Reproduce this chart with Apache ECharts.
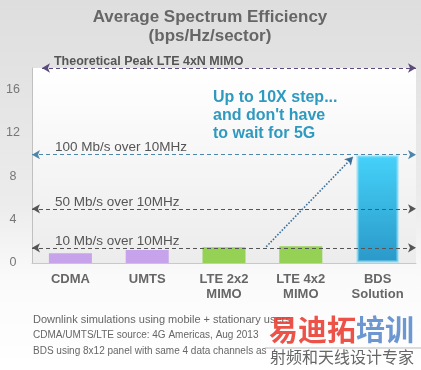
<!DOCTYPE html>
<html><head><meta charset="utf-8">
<script src="https://cdn.jsdelivr.net/npm/echarts@6/dist/echarts.min.js"></script>
<style>html,body{margin:0;padding:0;background:#fff}#c{width:421px;height:370px}</style>
</head><body><div id="c"></div>
<script>
const categories = ['CDMA', 'UMTS', 'LTE 2x2\nMIMO', 'LTE 4x2\nMIMO', 'BDS\nSolution'];
const efficiency = [0.9, 1.2, 1.45, 1.55, 10.0];
const barColors = ['#c6a3ea', '#c6a3ea', '#94d155', '#94d155', 'bds'];
const yTicks = [0, 4, 8, 12, 16];
const refLevels = [18, 10, 5, 1.4];
const refLabels = ['Theoretical Peak LTE 4xN MIMO', '100 Mb/s over 10MHz', '50 Mb/s over 10MHz', '10 Mb/s over 10MHz'];
const refStart = [0.13, 0, 0, 0];
const refColors = ['#5a4b7c', '#4d86a8', '#555555', '#555555'];
const stepArrow = [[3.05, 1.5], [4.18, 9.8]];
const footnotes = ['Downlink simulations using mobile + stationary users', 'CDMA/UMTS/LTE source: 4G Americas, Aug 2013', 'BDS using 8x12 panel with same 4 data channels as'];

const chart = echarts.init(document.getElementById('c'), null, {renderer: 'canvas'});
const F = 'Liberation Sans, Arial, sans-serif';
const bdsGrad = new echarts.graphic.LinearGradient(0, 0, 0, 1, [
  {offset: 0, color: '#45d2fa'}, {offset: 1, color: '#2a98c8'}]);

const markData = refLevels.map((v, i) => [
  {coord: [refStart[i], v], lineStyle: {color: refColors[i]},
   label: {show: true, formatter: refLabels[i], position: 'insideStartTop',
     distance: 0, padding: [0, 0, 0, i === 0 ? 12 : 23],
     color: '#555', fontSize: i === 0 ? 12.5 : 13.5, fontWeight: i === 0 ? 'bold' : 'normal', fontFamily: F}},
  {coord: [5, v]}
]);
markData.push([
  {coord: stepArrow[0], symbol: 'none', lineStyle: {type: 'dotted', color: '#3b6f98', width: 1.6}, label: {show: false}},
  {coord: stepArrow[1], symbol: 'arrow'}
]);

chart.setOption({
  animation: false,
  backgroundColor: new echarts.graphic.LinearGradient(0, 0, 0, 1, [
    {offset: 0, color: '#dedede'}, {offset: 0.55, color: '#ececec'}, {offset: 0.75, color: '#fafafa'}, {offset: 1, color: '#ffffff'}]),
  title: {
    text: 'Average Spectrum Efficiency\n(bps/Hz/sector)', left: 205, textAlign: 'center', top: 3,
    textStyle: {fontFamily: F, fontSize: 17, fontWeight: 'bold', color: '#666', lineHeight: 19}
  },
  grid: {left: 32, right: 5, top: 68, bottom: 107, show: true, borderWidth: 0,
    backgroundColor: new echarts.graphic.LinearGradient(0, 0, 0, 1, [
      {offset: 0, color: '#ffffff'}, {offset: 1, color: '#ececec'}])},
  xAxis: [{
    type: 'category', data: categories,
    axisLine: {lineStyle: {color: '#c8c8c8'}}, axisTick: {show: false},
    axisLabel: {fontFamily: F, fontSize: 13, fontWeight: 'bold', color: '#666', lineHeight: 15, margin: 9}
  }, {
    type: 'value', min: 0, max: 5, show: false
  }],
  yAxis: {
    type: 'value', min: 0, max: 18, interval: 4,
    axisLine: {show: true, lineStyle: {color: '#c0c0c0'}}, axisTick: {show: false}, splitLine: {show: false},
    axisLabel: {fontFamily: F, fontSize: 12.5, color: '#777', align: 'center', margin: 19,
      formatter: v => yTicks.includes(v) ? String(v) : ''}
  },
  series: [{
    type: 'bar', data: efficiency.map((v, i) => ({value: v, itemStyle: {color: barColors[i] === 'bds' ? bdsGrad : barColors[i],
      borderColor: barColors[i] === 'bds' ? 'rgba(140,220,245,0.45)' : 'transparent', borderWidth: barColors[i] === 'bds' ? 3 : 0}})),
    barWidth: 43, silent: true
  }, {
    type: 'scatter', xAxisIndex: 1, data: [[0, 0]], symbolSize: 0, silent: true,
    markLine: {silent: true, symbol: ['arrow', 'arrow'], symbolSize: [7, 8], animation: false,
      lineStyle: {type: [4, 3], width: 1.2}, data: markData}
  }],
  graphic: [
    {type: 'text', left: 213, top: 89, style: {text: "Up to 10X step...\nand don't have\nto wait for 5G",
      fill: '#2f9ac0', font: 'bold 16px ' + F, lineHeight: 18}},
    {type: 'text', left: 33, top: 314, style: {text: footnotes[0], fill: '#666', font: '11px ' + F}},
    {type: 'text', left: 33, top: 330, style: {text: footnotes[1], fill: '#666', font: '10px ' + F}},
    {type: 'text', left: 33, top: 346, style: {text: footnotes[2], fill: '#666', font: '10px ' + F}},
    {type: 'line', shape: {x1: 265, y1: 348, x2: 421, y2: 348}, style: {stroke: '#bbb', lineWidth: 1}},
    {type: 'text', left: 269, top: 315, style: {rich: {r: {fill: '#ea3f33', font: 'bold 29px "Noto Sans CJK SC"'}, b: {fill: '#5d8ccb', font: 'bold 29px "Noto Sans CJK SC"'}},
      text: '{r|易迪拓}{b|培训}', opacity: 0.9}},
    {type: 'text', left: 270, top: 349, style: {text: '射频和天线设计专家', fill: '#666', font: '16px "Noto Sans CJK SC"'}}
  ]
});
</script></body></html>
